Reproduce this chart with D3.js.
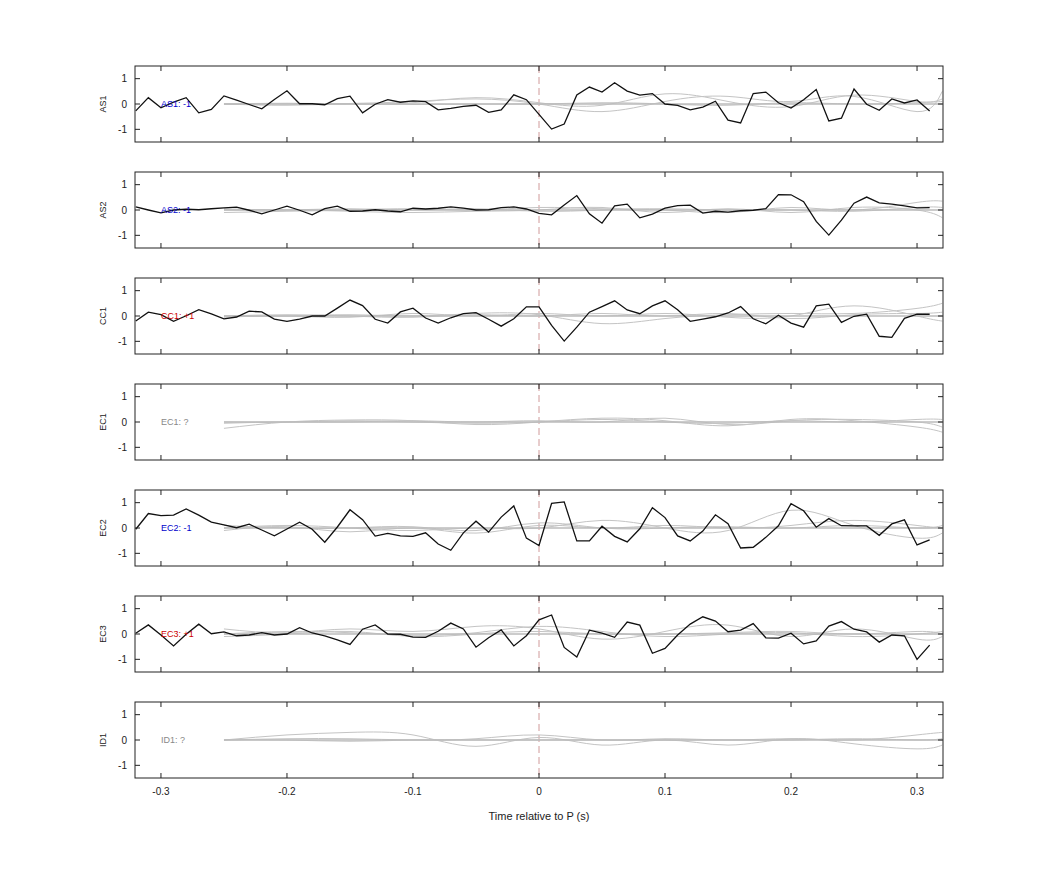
<!DOCTYPE html>
<html><head><meta charset="utf-8">
<script src="https://cdn.jsdelivr.net/npm/d3@7"></script>
<style>body{margin:0;background:#fff}text{font-family:"Liberation Sans",Arial,sans-serif}</style>
</head><body><svg id="c" width="1042" height="875"></svg>
<script>
const panels = ["AS1","AS2","CC1","EC1","EC2","EC3","ID1"];
const labels = ["AS1: -1","AS2: -1","CC1: +1","EC1: ?","EC2: -1","EC3: +1","ID1: ?"];
const labelColors = ["#0000cc","#0000cc","#cc0000","#888888","#0000cc","#cc0000","#888888"];
const xTicks = [-0.3,-0.2,-0.1,0,0.1,0.2,0.3];
const xTickLabels = ["-0.3","-0.2","-0.1","0","0.1","0.2","0.3"];
const yTicks = [-1,0,1];
const blackTimes = d3.range(64).map(i => (-32 + i) / 100);
const AS1 = [-0.27,0.25,-0.15,0.07,0.25,-0.35,-0.21,0.32,0.15,-0.02,-0.19,0.18,0.52,0.01,0.01,-0.03,0.21,0.31,-0.35,-0.01,0.17,0.07,0.12,0.09,-0.23,-0.17,-0.09,-0.05,-0.33,-0.23,0.36,0.17,-0.41,
 -0.99,-0.79,0.36,0.67,0.47,0.84,0.51,0.35,0.41,0,-0.05,-0.23,-0.12,0.11,-0.64,-0.75,0.41,0.47,0.05,-0.16,0.17,0.57,-0.67,-0.56,0.59,-0.01,-0.25,0.2,0.04,0.16,-0.28];
const AS2 = [0.12,0,-0.11,0,0.03,0.01,0.05,0.08,0.11,-0.01,-0.15,0,0.15,-0.01,-0.19,0.05,0.15,-0.05,-0.04,0.01,-0.04,-0.07,0.07,0.04,0.07,0.12,0.07,0,0.01,0.09,0.12,0.04,-0.13,
 -0.19,0.2,0.57,-0.15,-0.52,0.16,0.23,-0.31,-0.16,0.07,0.17,0.19,-0.12,-0.05,-0.08,-0.03,-0.01,0.05,0.61,0.6,0.33,-0.45,-0.99,-0.4,0.27,0.51,0.28,0.23,0.16,0.08,0.09];
const CC1 = [-0.2,0.15,0.05,-0.21,0.01,0.25,0.08,-0.11,-0.04,0.19,0.16,-0.12,-0.21,-0.12,0,0,0.31,0.63,0.41,-0.13,-0.28,0.16,0.31,-0.08,-0.28,-0.07,0.09,0.13,-0.13,-0.4,-0.11,0.36,0.36,
 -0.37,-0.99,-0.44,0.15,0.37,0.6,0.24,0.09,0.4,0.6,0.25,-0.21,-0.12,-0.03,0.12,0.37,-0.11,-0.31,0.03,-0.28,-0.44,0.4,0.47,-0.25,-0.01,0.07,-0.8,-0.84,-0.09,0.07,0.07];
const EC2 = [-0.05,0.57,0.49,0.51,0.75,0.51,0.23,0.12,0.01,0.15,-0.08,-0.31,-0.04,0.23,-0.05,-0.56,0.04,0.72,0.33,-0.32,-0.21,-0.31,-0.33,-0.19,-0.63,-0.88,-0.19,0.27,-0.16,0.43,0.87,-0.4,-0.69,
 0.97,1.03,-0.51,-0.51,0.07,-0.33,-0.55,-0.03,0.8,0.41,-0.31,-0.51,-0.12,0.52,0.17,-0.79,-0.76,-0.37,0.09,0.96,0.68,0.03,0.37,0.09,0.08,0.08,-0.29,0.16,0.32,-0.67,-0.47];
const EC3 = [0.03,0.36,-0.04,-0.47,-0.01,0.39,0.01,0.08,-0.07,-0.04,0.05,-0.04,0,0.25,0.04,-0.07,-0.23,-0.41,0.19,0.36,0,-0.01,-0.12,-0.13,0.11,0.43,0.2,-0.52,-0.15,0.16,-0.47,-0.07,0.56,
 0.75,-0.53,-0.91,0.15,0.03,-0.13,0.47,0.35,-0.76,-0.57,-0.04,0.39,0.68,0.51,0.09,0.15,0.41,-0.15,-0.16,0.03,-0.39,-0.27,0.31,0.49,0.19,0.08,-0.32,-0.04,-0.07,-1.0,-0.44];
const blackSeries = [AS1, AS2, CC1, null, EC2, EC3, null];
const greyTimes = [-0.25,-0.2,-0.15,-0.1,-0.05,0,0.05,0.1,0.15,0.2,0.25,0.3,0.32];
const greyAS1 = [[0,0,0.02,0.1,0.2,0,-0.3,0.1,0.3,0.1,0.3,-0.3,0.5],[0,0.03,0,0.05,0.25,0.05,-0.05,0.4,0.1,-0.1,0.35,0.1,0.2],[0,-0.05,0,-0.02,0,0,0.05,0,-0.05,0.05,0,0.05,0.1]];
const greyAS2 = [[-0.1,-0.05,0,0.05,0,0.1,0.05,0,-0.1,0.1,0,0.3,0.35],[0,0,-0.05,-0.1,-0.05,0,0.1,-0.1,0.05,-0.1,0.1,0,-0.3],[0.05,0,0.05,0,0.05,-0.05,0,0.05,0,0,-0.05,0.1,0.1]];
const greyCC1 = [[0,0,0.05,0,0.1,0.05,-0.3,-0.1,0.05,0.1,0.1,0.3,0.5],[-0.05,0,-0.05,0.1,0,0.1,0,0.1,-0.05,0,0.4,0,-0.2],[0,0.05,0,-0.05,0.05,0,0.1,0,0.1,-0.1,0.05,0.1,0.15]];
const greyEC1 = [[-0.25,0,0.08,0.05,-0.1,0,0.15,0.05,-0.15,0.1,0.05,-0.2,-0.4],[-0.05,0,0,0.05,0,0.05,0,0.15,-0.1,0.05,0.1,0,-0.2],[0,0,0.05,0,-0.05,0,0.1,0,-0.05,0.05,0,0.1,0.1]];
const greyEC2 = [[0,0.1,0,-0.1,0,0,0.3,0,-0.1,0.7,0.1,-0.4,-0.2],[-0.1,0.05,-0.15,0,-0.2,0.1,0,0.1,0,0.1,0.3,0.1,0],[0.1,0,0,0.05,-0.1,0.2,0,0,0.05,0,0.1,0,0.1]];
const greyEC3 = [[0.2,0.05,0.2,0.1,0.3,0.2,-0.2,0.1,0.35,-0.1,0.2,-0.2,-0.1],[0,0.1,0.05,-0.05,0.05,0.3,0.1,-0.1,0,0.05,-0.1,0,0.1],[-0.1,0,0.1,-0.1,0,0.1,0,0,0.05,0.1,0,0.1,0]];
const greyID1 = [[0,0.2,0.3,0.2,-0.25,0.1,-0.2,0,-0.2,0.05,-0.15,-0.35,-0.2],[0,0.05,0.05,0,0.05,0.2,0,0.05,0,0.05,0,0.2,0.3],[0,0,-0.05,0,0,0,0,0,0,0,0.05,0,0.05]];
const greySeries = [greyAS1, greyAS2, greyCC1, greyEC1, greyEC2, greyEC3, greyID1];

const svg = d3.select("#c");
const left = 135, right = 943, top0 = 66, ph = 76, gap = 106;
const x = d3.scaleLinear().domain([-0.3206, 0.3206]).range([left, right]);
const y = d3.scaleLinear().domain([-1.5, 1.5]).range([ph, 0]);
const fs = "10px";

panels.forEach((name, i) => {
  const g = svg.append("g").attr("transform", `translate(0,${top0 + i*gap})`);
  const clip = "clip" + i;
  g.append("clipPath").attr("id", clip).append("rect").attr("x", left).attr("y", 0).attr("width", right-left).attr("height", ph);
  const plot = g.append("g").attr("clip-path", `url(#${clip})`);
  plot.append("line").attr("x1", x(0)).attr("x2", x(0)).attr("y1", 0).attr("y2", ph)
    .attr("stroke", "#d09a9a").attr("stroke-width", 1).attr("stroke-dasharray", "7,4");
  const gl = d3.line().x((d,k) => x(greyTimes[k])).y(d => y(d)).curve(d3.curveNatural);
  greySeries[i].forEach(s => plot.append("path").attr("d", gl(s)).attr("fill","none").attr("stroke","#c4c4c4").attr("stroke-width",1));
  plot.append("line").attr("x1", x(-0.25)).attr("x2", x(0.32)).attr("y1", y(0)).attr("y2", y(0)).attr("stroke","#bbb").attr("stroke-width",1.5);
  if (blackSeries[i]) {
    const bl = d3.line().x((d,k) => x(blackTimes[k])).y(d => y(d));
    plot.append("path").attr("d", bl(blackSeries[i])).attr("fill","none").attr("stroke","#111").attr("stroke-width",1.3);
  }
  plot.append("text").attr("x", x(-0.3)).attr("y", y(0)+3).attr("font-size","9px").attr("fill", labelColors[i]).text(labels[i]);
  g.append("rect").attr("x", left).attr("y", 0).attr("width", right-left).attr("height", ph).attr("fill","none").attr("stroke","#222").attr("stroke-width",1);
  xTicks.forEach(t => {
    g.append("line").attr("x1", x(t)).attr("x2", x(t)).attr("y1", ph).attr("y2", ph-5).attr("stroke","#222");
    g.append("line").attr("x1", x(t)).attr("x2", x(t)).attr("y1", 0).attr("y2", 5).attr("stroke","#222");
  });
  yTicks.forEach(t => {
    g.append("line").attr("x1", left).attr("x2", left+5).attr("y1", y(t)).attr("y2", y(t)).attr("stroke","#222");
    g.append("line").attr("x1", right).attr("x2", right-5).attr("y1", y(t)).attr("y2", y(t)).attr("stroke","#222");
    g.append("text").attr("x", left-8).attr("y", y(t)+3.5).attr("text-anchor","end").attr("font-size",fs).attr("fill","#222").text(t);
  });
  g.append("text").attr("transform", `translate(106,${ph/2}) rotate(-90)`).attr("text-anchor","middle").attr("font-size","9px").attr("fill","#222").text(name);
  if (i === panels.length - 1) {
    xTicks.forEach((t,k) => g.append("text").attr("x", x(t)).attr("y", ph+17).attr("text-anchor","middle").attr("font-size",fs).attr("fill","#222").text(xTickLabels[k]));
    g.append("text").attr("x", x(0)).attr("y", ph+42).attr("text-anchor","middle").attr("font-size","11px").attr("fill","#222").text("Time relative to P (s)");
  }
});
</script></body></html>
